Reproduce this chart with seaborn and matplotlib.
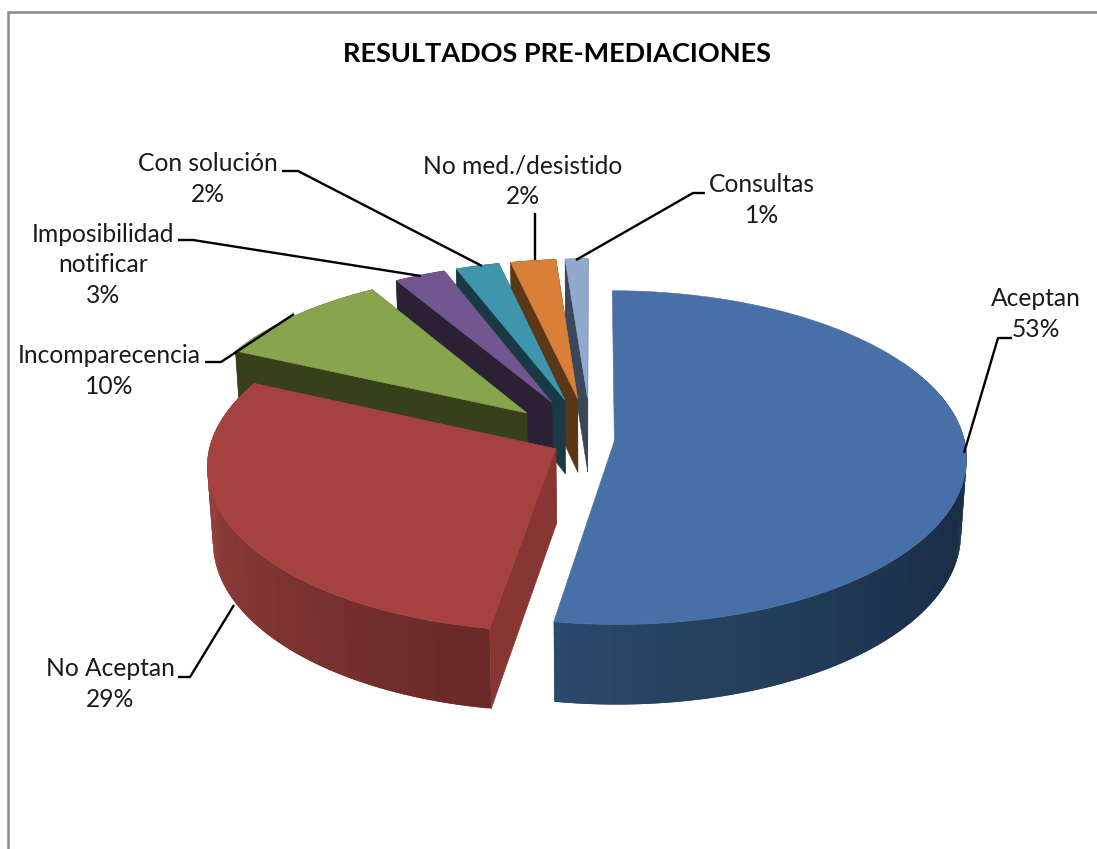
import numpy as np
import matplotlib
matplotlib.use("Agg")
import matplotlib.pyplot as plt
import seaborn as sns

# --- DATA ---
labels = ["Aceptan", "No Aceptan", "Incomparecencia", "Imposibilidad\nnotificar",
          "Con solución", "No med./desistido", "Consultas"]
values = [52.6, 29.2, 9.6, 2.7, 2.3, 2.4, 1.2]
percent_labels = ["53%", "29%", "10%", "3%", "2%", "2%", "1%"]
title = "RESULTADOS PRE-MEDIACIONES"

# --- STYLE ---
explode = [0.067, 0.113, 0.25, 0.26, 0.26, 0.26, 0.26]
radius = [1, 0.985, 0.975, 0.975, 0.975, 0.975, 0.975]
top_colors = ["#4670A7", "#A5413E", "#88A44C", "#72568F", "#3F95AD", "#D87F38", "#92A9CF"]
cut_colors = ["#1B2F47", "#873633", "#373F1B", "#2B2135", "#193A44", "#5C3716", "#3B4659"]
wall_from = ["#1A2F47", "#6B2A28", "#373F1B", "#2B2135", "#193A44", "#5C3716", "#3B4659"]
wall_to = ["#2C4A6C", "#94403C", "#373F1B", "#2B2135", "#193A44", "#5C3716", "#3B4659"]

# where the text sits, in pixels of the picture
label_pos = [(1036, 314), (110, 684), (109, 371), (103, 265), (208, 179), (523, 181), (762, 200)]
leaders = [
    [(1012, 338), (998, 338), (964, 453)],
    [(178, 677), (190, 677), (234, 605)],
    [(205, 362), (221, 362), (294, 314)],
    [(178, 240), (193, 240), (421, 276)],
    [(282, 171), (298, 171), (482, 266)],
    [(535, 213), (535, 260)],
    [(705, 193), (693, 193), (576, 260)],
]

# perspective of the pie
CX, CY = 591, 440
SX, SY, DEPTH = 350, 165, 76
K_Y, K_Z = 0.10, 0.015


def project(x, y, z):
    w = 1 + K_Y * y + K_Z * z
    return CX + SX * x / w, CY - SY * y / w + DEPTH * z / w


sns.set_theme(style="white")
plt.rcParams["font.family"] = ["Lato", "DejaVu Sans"]

fig = plt.figure(figsize=(10.97, 8.49), dpi=100)
ax = fig.add_axes([0, 0, 1, 1])
ax.set_xlim(0, 1097)
ax.set_ylim(849, 0)
ax.axis("off")

# chart frame, cut by the picture on the right and at the bottom
ax.plot([8, 8, 1097], [849, 12, 12], color="#8A8A8A", lw=1.8, solid_joinstyle="miter", zorder=1)

# --- SLICES ---
angles = np.concatenate([[0], np.cumsum(values)]) / sum(values) * 360
# back slices first, so that the front ones cover them
for i in reversed(range(len(values))):
    z = 2 + len(values) - i
    a1, a2 = np.radians(angles[i]), np.radians(angles[i + 1])
    mid = (a1 + a2) / 2
    r = radius[i]
    ox, oy = explode[i] * np.sin(mid), explode[i] * np.cos(mid)
    t = np.linspace(a1, a2, max(int(np.degrees(a2 - a1) * 1.5), 3))
    rim_x, rim_y = ox + r * np.sin(t), oy + r * np.cos(t)

    # cut faces, the ones of the first slice stay hidden
    if i > 0:
        for a in (a1, a2):
            ex, ey = ox + r * np.sin(a), oy + r * np.cos(a)
            quad = [project(ox, oy, 0), project(ex, ey, 0), project(ex, ey, 1), project(ox, oy, 1)]
            ax.fill(*zip(*quad), color=cut_colors[i], lw=0.4, zorder=z)

    # outer wall, shaded by direction
    shades = sns.blend_palette([wall_from[i], wall_to[i]], 24)
    for j in range(len(t) - 1):
        deg = np.degrees(t[j])
        if i == 0 and deg < 60:  # back of the big slice, never seen
            continue
        k = min(j + 2, len(t) - 1)  # strips overlap, no seams
        xa, ya, xb, yb = rim_x[j], rim_y[j], rim_x[k], rim_y[k]
        quad = [project(xa, ya, 0), project(xb, yb, 0), project(xb, yb, 1), project(xa, ya, 1)]
        if i == 0:
            frac = np.clip((deg - 115) / 75, 0, 1)
        elif i == 1:
            frac = np.clip((deg - 195) / 70, 0, 1)
        else:
            frac = 0
        ax.fill(*zip(*quad), color=shades[int(frac * 23)], lw=0, zorder=z)

    # top
    outline = [project(ox, oy, 0)] + [project(x, y, 0) for x, y in zip(rim_x, rim_y)]
    ax.fill(*zip(*outline), color=top_colors[i], lw=0.4, zorder=z)

# --- TEXT ---
for name, pct, pos in zip(labels, percent_labels, label_pos):
    ax.text(pos[0], pos[1], f"{name}\n{pct}", ha="center", va="center", fontsize=17.7,
            color="#1A1A1A", linespacing=1.42, zorder=20)

for path in leaders:
    ax.plot(*zip(*path), color="black", lw=1.7, zorder=21, solid_capstyle="butt")

ax.text(557, 54, title, ha="center", va="center", fontsize=19.5, fontweight="bold",
        color="black", zorder=20)

fig.savefig("out.png", dpi=100)
